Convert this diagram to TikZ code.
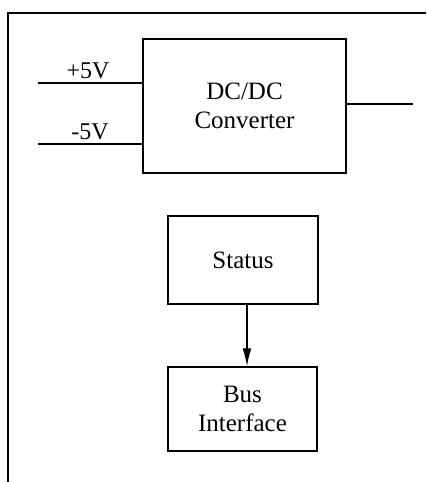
\documentclass[tikz,border=0pt]{standalone}
\usepackage{fontspec}
\setmainfont{Liberation Serif}
\usetikzlibrary{arrows.meta}
\begin{document}
\begin{tikzpicture}[x=1pt,y=-1pt,
  blk/.style={draw,line width=1.5pt,inner sep=0pt,align=center,font=\fontsize{25}{29}\selectfont},
  wire/.style={line width=1.4pt},
  lbl/.style={font=\fontsize{24}{28}\selectfont,inner sep=0pt}]
\useasboundingbox (0,0) rectangle (426,482);
% open frame
\coordinate (fr) at (426,13);
\coordinate (fc) at (8,13);
\coordinate (fb) at (8,482);
\draw[line width=1.8pt] (fr) -- (fc) -- (fb);
% blocks
\node[blk,minimum width=203pt,minimum height=134pt] (dc) at (244.5,106) {DC/DC\\Converter};
\node[blk,minimum width=150pt,minimum height=88pt] (status) at (243,260) {Status};
\node[blk,minimum width=149pt,minimum height=84pt] (bus) at (242.5,409) {Bus\\Interface};
% input wires
\coordinate (p5) at (38,83);
\coordinate (m5) at (38,144);
\draw[wire] (p5) -- (p5 -| dc.west);
\draw[wire] (m5) -- (m5 -| dc.west);
\node[lbl,anchor=south] (lp) at (88,79) {+5V};
\node[lbl,anchor=south] (lm) at (90,140) {-5V};
% output wire
\coordinate (out) at (413,104);
\draw[wire] (out -| dc.east) -- (out);
% arrow
\coordinate (ax) at (247,0);
\draw[wire,-{Latex[length=18pt,width=9pt]}] (status.south -| ax) -- (bus.north -| ax);
\end{tikzpicture}
\end{document}
